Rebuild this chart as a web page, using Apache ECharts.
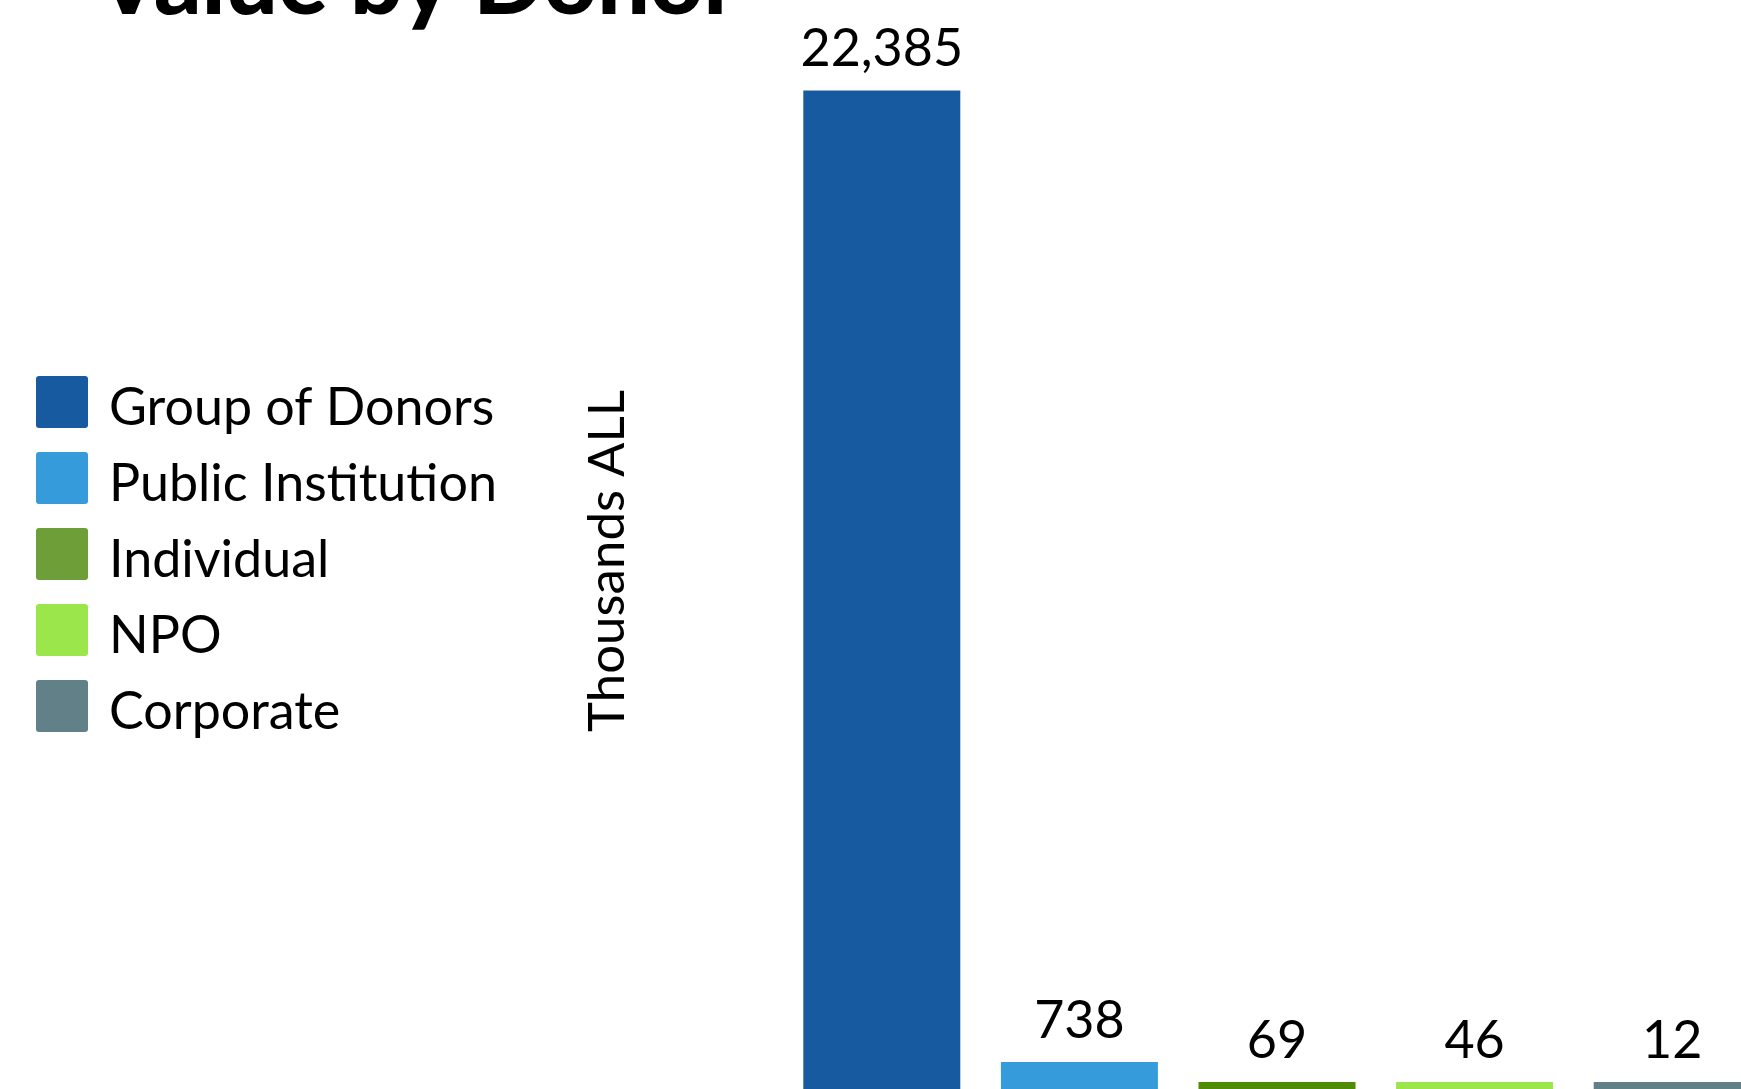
<!DOCTYPE html>
<html>
<head>
<meta charset="utf-8">
<title>Value by Donor</title>
<script src="https://cdn.jsdelivr.net/npm/echarts@6/dist/echarts.min.js"></script>
<style>
  html, body { margin: 0; padding: 0; background: #ffffff; overflow: hidden; }
  /* The drawing surface runs slightly past the window so the last bar is cut at the edge */
  #chart { width: 1800px; height: 1100px; }
</style>
</head>
<body>
<div id="chart"></div>
<script>
// Donor types and their contributed value (thousands ALL)
const donorTypes = ['Group of Donors', 'Public Institution', 'Individual', 'NPO', 'Corporate'];
const donorValues = [22385, 738, 69, 46, 12];

// Bar fills and the matching legend swatches
const barColors = ['#175aa0', '#359bdb', '#4e8c06', '#9be64a', '#628087'];
const swatchColors = ['#175aa0', '#359bdb', '#6e9e38', '#9be64a', '#628087'];

const FONT = 'Lato, "Noto Sans", sans-serif';
const roundedSquare = 'path://M3,0 H49 A3,3 0 0 1 52,3 V49 A3,3 0 0 1 49,52 H3 A3,3 0 0 1 0,49 V3 A3,3 0 0 1 3,0 Z';

// One series per donor type, each occupying its own category slot
const series = donorTypes.map((name, i) => ({
  name: name,
  type: 'bar',
  stack: 'donor',
  barWidth: 157,
  barMinHeight: 13,
  itemStyle: { color: barColors[i] },
  label: {
    show: true,
    position: 'top',
    distance: 15,
    color: '#000000',
    fontFamily: FONT,
    fontSize: 52,
    formatter: p => Number(p.value).toLocaleString('en-US')
  },
  data: donorValues.map((v, j) => (j === i ? v : '-'))
}));

const chart = echarts.init(document.getElementById('chart'), null, { renderer: 'canvas' });
chart.setOption({
  backgroundColor: '#ffffff',
  animation: false,
  title: {
    text: 'Value by Donor',
    left: 96,
    top: -63,
    padding: 0,
    textStyle: { fontFamily: FONT, fontWeight: 900, fontSize: 93, color: '#000000' }
  },
  legend: {
    orient: 'vertical',
    left: 36,
    top: 376,
    padding: 0,
    itemWidth: 52,
    itemHeight: 52,
    itemGap: 17.5,
    icon: roundedSquare,
    selectedMode: false,
    formatter: '{t|{name}}',
    textStyle: {
      fontFamily: FONT,
      fontSize: 52,
      color: '#000000',
      rich: {
        t: { fontFamily: FONT, fontSize: 52, color: '#000000', padding: [13, 0, 0, 16] }
      }
    },
    data: donorTypes.map((name, i) => ({ name: name, itemStyle: { color: swatchColors[i] } }))
  },
  grid: { left: 783, right: 29, top: 27, bottom: 5, containLabel: false },
  xAxis: {
    type: 'category',
    data: donorTypes,
    axisLine: { show: false },
    axisTick: { show: false },
    axisLabel: { show: false }
  },
  yAxis: {
    type: 'value',
    min: 0,
    max: 23800,
    name: 'Thousands ALL',
    nameLocation: 'middle',
    nameRotate: 90,
    nameGap: 150,
    nameTextStyle: { fontFamily: FONT, fontSize: 51, color: '#000000' },
    axisLine: { show: false },
    axisTick: { show: false },
    axisLabel: { show: false },
    splitLine: { show: false }
  },
  series: series
});
</script>
</body>
</html>
